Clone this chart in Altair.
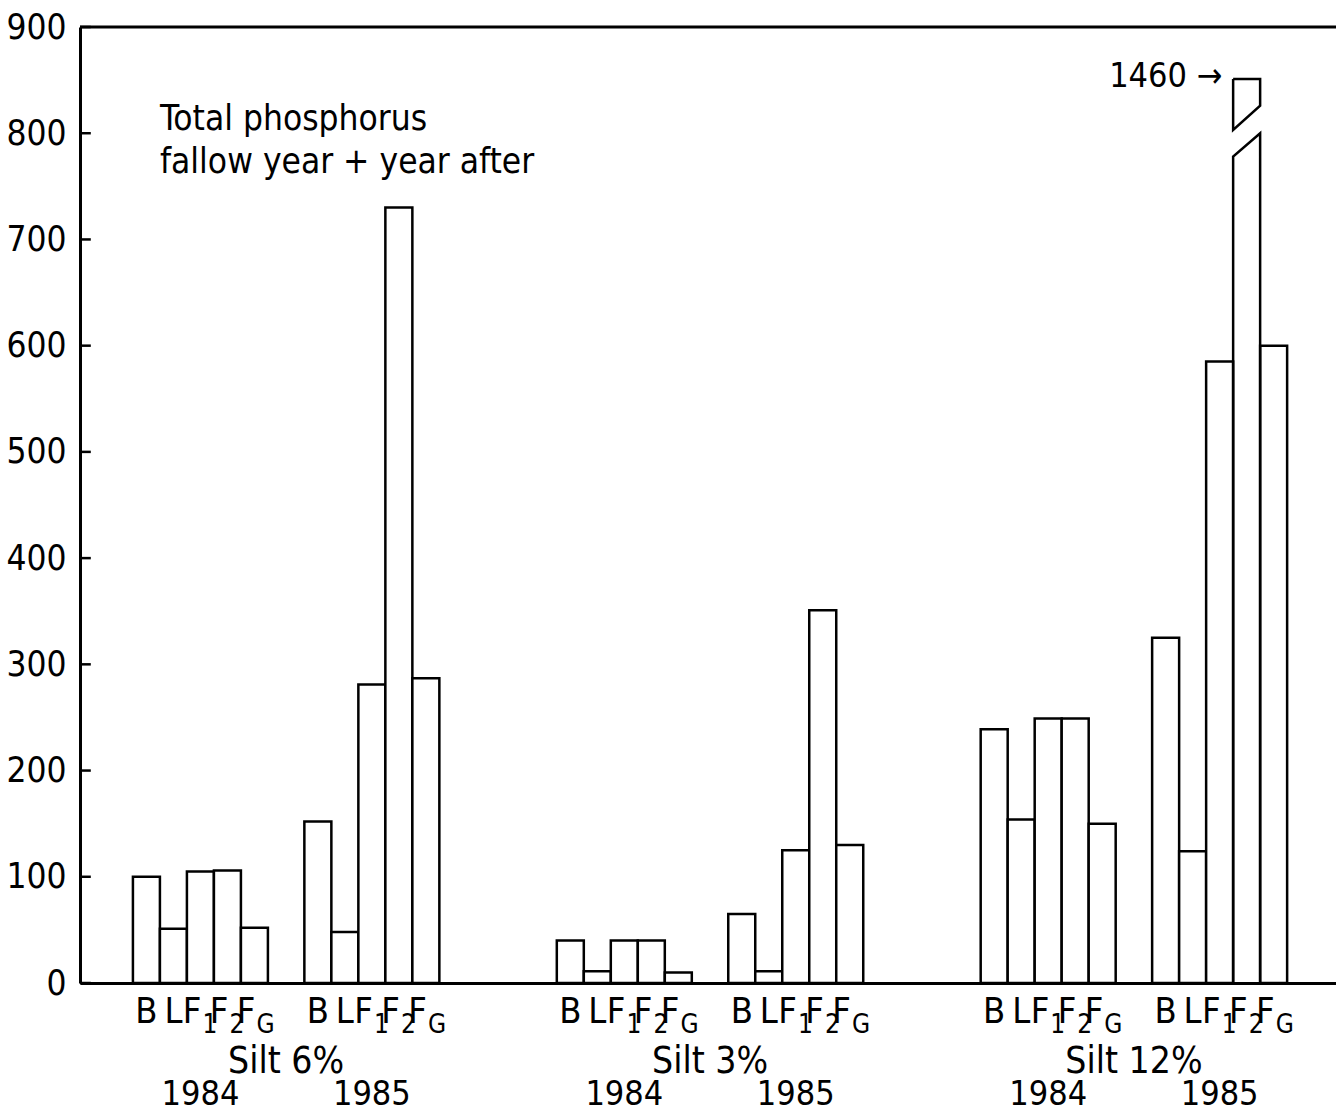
import altair as alt
import pandas as pd

FONT = "DejaVu Sans Condensed"

silts = ["Silt 6%", "Silt 3%", "Silt 12%"]
years = ["1984", "1985"]
treatments = ["B", "L", "F1", "F2", "FG"]

# Total phosphorus per treatment (B, L, F1, F2, FG)
silt6_1984 = [100, 51, 105, 106, 52]
silt6_1985 = [152, 48, 281, 730, 287]
silt3_1984 = [40, 11, 40, 40, 10]
silt3_1985 = [65, 11, 125, 351, 130]
silt12_1984 = [239, 154, 249, 249, 150]
silt12_1985 = [325, 124, 585, 1460, 600]

y_ticks = [0, 100, 200, 300, 400, 500, 600, 700, 800, 900]
y_max = 900

# drawn shape of the broken (off-scale) bar, in axis units
break_low = [778, 800]     # top of lower piece: left, right
break_high = [803, 826]    # bottom of upper piece: left, right
break_top = 851

# layout in bar-width units
first_bar = 1.96
silt_step = 15.7
year_step = 6.35
x_max = 46.52

values = {
    (0, 0): silt6_1984, (0, 1): silt6_1985,
    (1, 0): silt3_1984, (1, 1): silt3_1985,
    (2, 0): silt12_1984, (2, 1): silt12_1985,
}

rows, grp_rows, silt_rows = [], [], []
for si, silt in enumerate(silts):
    s0 = first_bar + silt_step * si
    silt_rows.append(dict(label=silt, xc=s0 + (year_step + 5) / 2))
    for yi, yr in enumerate(years):
        start = s0 + year_step * yi
        grp_rows.append(dict(label=yr, xc=start + 2.5))
        for ti, t in enumerate(treatments):
            rows.append(dict(silt=silt, year=yr, treatment=t,
                             value=values[(si, yi)][ti],
                             x0=start + ti, x1=start + ti + 1,
                             xc=start + ti + 0.5,
                             main=t[0], subs=t[1:]))
df = pd.DataFrame(rows)
normal = df[df["value"] <= y_max]
broken = df[df["value"] > y_max]

xs = alt.Scale(domain=[0, x_max], nice=False, zero=False)
ys = alt.Scale(domain=[0, y_max], nice=False)

bars = alt.Chart(normal).mark_bar(fill="white", stroke="black", strokeWidth=2.5).encode(
    x=alt.X("x0:Q", scale=xs, axis=alt.Axis(labels=False, ticks=False, grid=False, title=None,
                                            domainWidth=3, domainColor="black")),
    x2="x1:Q",
    y=alt.Y("value:Q", scale=ys, axis=alt.Axis(values=y_ticks, ticks=False, grid=False, title=None,
                                              domainWidth=3, domainColor="black",
                                              labelFont=FONT, labelFontSize=35, labelColor="black",
                                              labelPadding=14)),
    y2=alt.datum(0),
)

# broken bar outline
pts = []
ann_rows = []
for _, r in broken.iterrows():
    a, b = r["x0"], r["x1"]
    for i, (xx, yy) in enumerate([(a, 0), (a, break_low[0]), (b, break_low[1]), (b, 0)]):
        pts.append(dict(piece="low", o=i, x=xx, y=yy))
    for i, (xx, yy) in enumerate([(a, break_top), (a, break_high[0]), (b, break_high[1]),
                                  (b, break_top), (a, break_top)]):
        pts.append(dict(piece="high", o=i, x=xx, y=yy))
    ann_rows.append(dict(x=a - 0.4, y=break_top + 2, label=f"{int(r['value'])} →"))
pts = pd.DataFrame(pts)
ann = pd.DataFrame(ann_rows)

brk = alt.Chart(pts).mark_line(color="black", strokeWidth=2.5).encode(
    x=alt.X("x:Q", scale=xs), y=alt.Y("y:Q", scale=ys), detail="piece:N", order="o:Q")

ann_text = alt.Chart(ann).mark_text(font=FONT, fontSize=34, align="right", baseline="middle",
                                    color="black").encode(
    x=alt.X("x:Q", scale=xs), y=alt.Y("y:Q", scale=ys), text="label:N")

top_rule = alt.Chart(pd.DataFrame({"v": [y_max]})).mark_rule(color="black", strokeWidth=3).encode(
    y=alt.Y("v:Q", scale=ys), x=alt.datum(0), x2=alt.datum(x_max))

tick_df = pd.DataFrame({"v": y_ticks})
ticks = alt.Chart(tick_df).mark_rule(color="black", strokeWidth=2.5).encode(
    y=alt.Y("v:Q", scale=ys), x=alt.datum(0), x2=alt.datum(0.4))

simple = df[df["subs"] == ""]
subbed = df[df["subs"] != ""]
lab_simple = alt.Chart(simple).mark_text(font=FONT, fontSize=36, align="center",
                                         baseline="alphabetic", color="black").encode(
    x=alt.X("xc:Q", scale=xs), y=alt.value(996), text="main:N")
lab_F = alt.Chart(subbed).transform_calculate(xf="datum.xc + 0.04").mark_text(
    font=FONT, fontSize=36, align="right", baseline="alphabetic", color="black").encode(
    x=alt.X("xf:Q", scale=xs), y=alt.value(996), text="main:N")
lab_sub = alt.Chart(subbed).transform_calculate(xf="datum.xc + 0.08").mark_text(
    font=FONT, fontSize=26, align="left", baseline="alphabetic", color="black").encode(
    x=alt.X("xf:Q", scale=xs), y=alt.value(1006), text="subs:N")

silt_lab = alt.Chart(pd.DataFrame(silt_rows)).mark_text(
    font=FONT, fontSize=37, align="center", baseline="alphabetic", color="black").encode(
    x=alt.X("xc:Q", scale=xs), y=alt.value(1046), text="label:N")
year_lab = alt.Chart(pd.DataFrame(grp_rows)).mark_text(
    font=FONT, fontSize=34, align="center", baseline="alphabetic", color="black").encode(
    x=alt.X("xc:Q", scale=xs), y=alt.value(1078), text="label:N")

title_df = pd.DataFrame({"t": ["Total phosphorus", "fallow year + year after"], "yy": [103, 146]})
title = alt.Chart(title_df).mark_text(font=FONT, fontSize=35, align="left", baseline="alphabetic",
                                      color="black").encode(
    x=alt.value(80), y=alt.Y("yy:Q", scale=None), text="t:N")

chart = alt.layer(bars, brk, ann_text, top_rule, ticks, lab_simple, lab_F, lab_sub,
                  silt_lab, year_lab, title).properties(
    width=1256, height=956,
    autosize=alt.AutoSizeParams(type="none"),
    padding={"left": 80, "top": 27, "right": 0, "bottom": 129},
    background="white",
).configure_view(stroke=None)

chart.save("out.html", embed_options={"renderer": "svg", "actions": False})
